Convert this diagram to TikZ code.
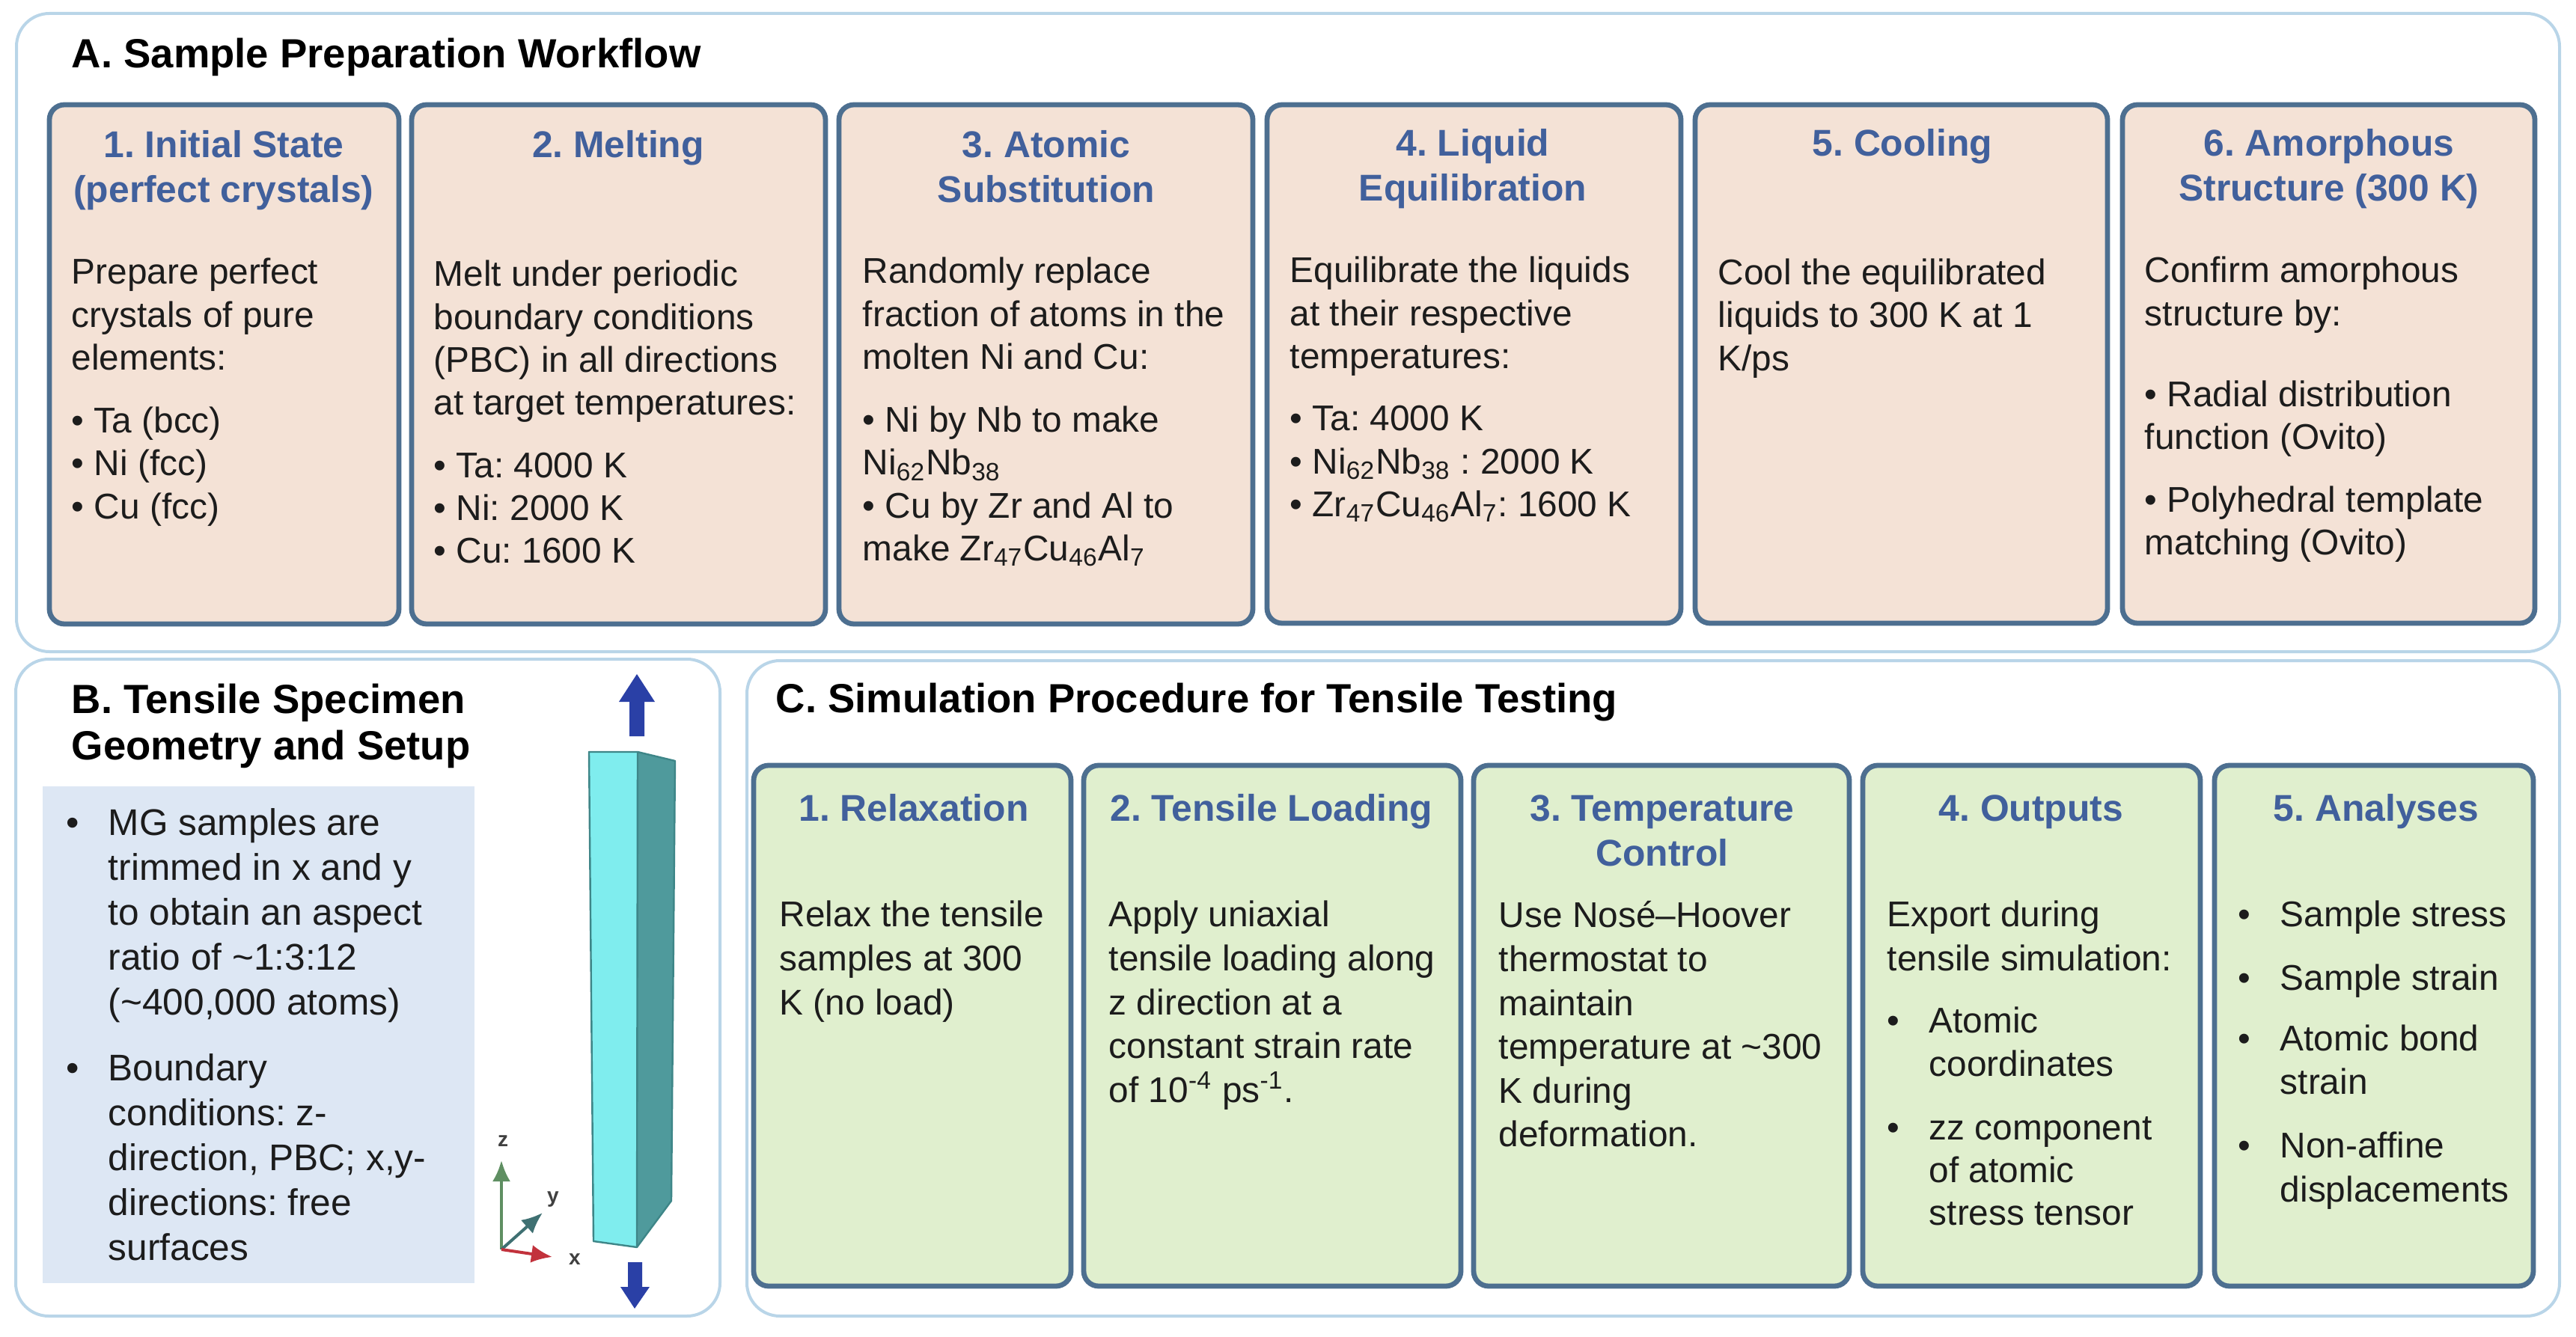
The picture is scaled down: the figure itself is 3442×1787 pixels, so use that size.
\documentclass[tikz,border=0pt]{standalone}
\usepackage{fontspec}
\setmainfont{Liberation Sans}
\usetikzlibrary{fit,arrows.meta}
\frenchspacing

\definecolor{panelline}{HTML}{B9D5E8}
\definecolor{cardline}{HTML}{4D6F90}
\definecolor{cardpeach}{HTML}{F4E2D6}
\definecolor{cardgreen}{HTML}{E0EFCE}
\definecolor{notefill}{HTML}{DDE7F4}
\definecolor{headblue}{HTML}{41609C}
\definecolor{inktext}{HTML}{1C1C1C}
\definecolor{arrowblue}{HTML}{2A40A6}
\definecolor{facefront}{HTML}{7FEDEE}
\definecolor{faceside}{HTML}{4F9A9C}
\definecolor{faceedge}{HTML}{3E8688}
\definecolor{axisz}{HTML}{5F8F62}
\definecolor{axisy}{HTML}{3F7072}
\definecolor{axisx}{HTML}{C2323C}

% first-line strut: every text node hangs 12pt below its stated baseline reference
\newcommand{\fl}{\rule{0pt}{12pt}}
\newcommand{\bul}{\makebox[14pt][l]{•}}
\newcommand{\ind}{\hspace*{14pt}}
\newcommand{\sub}[1]{\textsubscript{#1}}

\tikzset{
  x=0.25pt, y=-0.25pt,
  panel/.style={draw=panelline, line width=1pt, fill=white, rounded corners=11pt,
    inner sep=0pt, outer sep=0pt},
  cardA/.style={draw=cardline, line width=1.7pt, fill=cardpeach, rounded corners=5pt,
    inner sep=0pt, outer sep=0pt},
  cardC/.style={draw=cardline, line width=1.7pt, fill=cardgreen, rounded corners=5pt,
    inner sep=0pt, outer sep=0pt},
  note/.style={fill=notefill, inner sep=0pt, outer sep=0pt},
  panelhead/.style={anchor=north west, inner sep=0pt, yshift=12pt, align=left, text=black,
    font=\fontsize{13.62}{15.5}\selectfont\bfseries},
  cardhead/.style={anchor=north, inner sep=0pt, yshift=12pt, align=center, text=headblue,
    font=\fontsize{12.45}{15}\selectfont\bfseries},
  bodyA/.style={anchor=north west, inner sep=0pt, yshift=12pt, align=left, text=inktext,
    font=\fontsize{11.95}{14.3}\selectfont},
  bodyB/.style={anchor=north west, inner sep=0pt, yshift=12pt, align=left, text=inktext,
    font=\fontsize{12.4}{15}\selectfont},
  bodyC/.style={anchor=north west, inner sep=0pt, yshift=12pt, align=left, text=inktext,
    font=\fontsize{11.95}{14.65}\selectfont},
  axislabel/.style={inner sep=0pt, text=black!75, font=\fontsize{7}{8}\selectfont\bfseries},
  axisarrow/.style={line width=1pt, -{Latex[length=7pt,width=6pt]}},
}

\begin{document}
\begin{tikzpicture}
\useasboundingbox (0,0) rectangle (3442,1787);

% outer panels
\node[panel, fit={(22,18) (3420,871)}] (panelA) {};
\node[panel, fit={(21,881) (962,1759)}] (panelB) {};
\node[panel, fit={(998,883) (3420,1759)}] (panelC) {};

% panel A: workflow cards
\node[panelhead] (headA) at (95,90) {\fl A. Sample Preparation Workflow};
\node[cardA, fit={(66,140) (533,834)}] (a1) {};
\node[cardA, fit={(550,140) (1103,834)}] (a2) {};
\node[cardA, fit={(1121,140) (1674,834)}] (a3) {};
\node[cardA, fit={(1693,140) (2246,833)}] (a4) {};
\node[cardA, fit={(2265,140) (2816,833)}] (a5) {};
\node[cardA, fit={(2836,140) (3387,833)}] (a6) {};

\node[cardhead] (a1h) at (299,210) {\fl 1. Initial State\\(perfect crystals)};
\node[bodyA] (a1b) at (95,379) {\fl Prepare perfect\\crystals of pure\\elements:\\[6.8pt]
  • Ta (bcc)\\• Ni (fcc)\\• Cu (fcc)};

\node[cardhead] (a2h) at (826,210) {\fl 2. Melting};
\node[bodyA] (a2b) at (579,382) {\fl Melt under periodic\\boundary conditions\\(PBC) in all directions\\at target temperatures:\\[6.7pt]
  • Ta: 4000 K\\• Ni: 2000 K\\• Cu: 1600 K};

\node[cardhead] (a3h) at (1398,210) {\fl 3. Atomic\\Substitution};
\node[bodyA] (a3b) at (1152,378) {\fl Randomly replace\\fraction of atoms in the\\molten Ni and Cu:\\[6.8pt]
  • Ni by Nb to make\\Ni\sub{62}Nb\sub{38}\\• Cu by Zr and Al to\\make Zr\sub{47}Cu\sub{46}Al\sub{7}};

\node[cardhead] (a4h) at (1968,208) {\fl 4. Liquid\\Equilibration};
\node[bodyA] (a4b) at (1723,377) {\fl Equilibrate the liquids\\at their respective\\temperatures:\\[6.6pt]
  • Ta: 4000 K\\• Ni\sub{62}Nb\sub{38} : 2000 K\\• Zr\sub{47}Cu\sub{46}Al\sub{7}: 1600 K};

\node[cardhead] (a5h) at (2542,208) {\fl 5. Cooling};
\node[bodyA] (a5b) at (2295,380) {\fl Cool the equilibrated\\liquids to 300 K at 1\\K/ps};

\node[cardhead] (a6h) at (3112,208) {\fl 6. Amorphous\\Structure (300 K)};
\node[bodyA] (a6b) at (2865,377) {\fl Confirm amorphous\\structure by:\\[12.7pt]
  • Radial distribution\\function (Ovito)\\[6.7pt]
  • Polyhedral template\\matching (Ovito)};

% panel B: specimen notes
\node[panelhead] (headB) at (95,953) {\fl B. Tensile Specimen\\Geometry and Setup};
\node[note, fit={(57,1051) (634,1715)}] (noteB) {};
\node[bodyB] (noteBtext) at (88,1116) {\fl \bul MG samples are\\\ind trimmed in x and y\\\ind to obtain an aspect\\\ind ratio of \textasciitilde1:3:12\\\ind (\textasciitilde400,000 atoms)\\[7pt]
  \bul Boundary\\\ind conditions: z-\\\ind direction, PBC; x,y-\\\ind directions: free\\\ind surfaces};

% panel B: specimen bar
\fill[facefront] (787,1005) -- (852,1005) -- (851,1667) -- (793,1659) -- cycle;
\fill[faceside] (852,1005) -- (902,1017) -- (897,1605) -- (851,1667) -- cycle;
\draw[faceedge, line width=0.6pt, line join=round]
  (787,1005) -- (852,1005) -- (902,1017) -- (897,1605) -- (851,1667) -- (793,1659) -- cycle;
\draw[faceedge, line width=0.6pt] (852,1005) -- (851,1667);

% panel B: load arrows
\fill[arrowblue] (851,901) -- (875,938) -- (861,938) -- (861,984) -- (841,984) -- (841,938) -- (827,938) -- cycle;
\fill[arrowblue] (848,1749) -- (868,1720) -- (858,1720) -- (858,1687) -- (839,1687) -- (839,1720) -- (829,1720) -- cycle;

% panel B: coordinate triad
\coordinate (orig) at (670,1670);
\coordinate (ztip) at (670,1551);
\coordinate (ytip) at (725,1621);
\coordinate (xtip) at (738,1680);
\draw[axisarrow, axisz] (orig) -- (ztip);
\draw[axisarrow, axisy] (orig) -- (ytip);
\draw[axisarrow, axisx] (orig) -- (xtip);
\node[axislabel] (zlab) at (672,1525) {z};
\node[axislabel] (ylab) at (739,1603) {y};
\node[axislabel] (xlab) at (768,1683) {x};

% panel C: tensile procedure cards
\node[panelhead] (headC) at (1036,952) {\fl C. Simulation Procedure for Tensile Testing};
\node[cardC, fit={(1007,1023) (1431,1719)}] (c1) {};
\node[cardC, fit={(1448,1023) (1952,1719)}] (c2) {};
\node[cardC, fit={(1969,1023) (2471,1719)}] (c3) {};
\node[cardC, fit={(2489,1023) (2940,1719)}] (c4) {};
\node[cardC, fit={(2959,1023) (3385,1719)}] (c5) {};

\node[cardhead] (c1h) at (1221,1097) {\fl 1. Relaxation};
\node[bodyC] (c1b) at (1041,1238) {\fl Relax the tensile\\samples at 300\\K (no load)};

\node[cardhead] (c2h) at (1699,1097) {\fl 2. Tensile Loading};
\node[bodyC] (c2b) at (1481,1238) {\fl Apply uniaxial\\tensile loading along\\z direction at a\\constant strain rate\\of 10\textsuperscript{-4} ps\textsuperscript{-1}.};

\node[cardhead] (c3h) at (2221,1097) {\fl 3. Temperature\\Control};
\node[bodyC] (c3b) at (2002,1239) {\fl Use Nosé–Hoover\\thermostat to\\maintain\\temperature at \textasciitilde300\\K during\\deformation.};

\node[cardhead] (c4h) at (2714,1097) {\fl 4. Outputs};
\node[bodyC] (c4b) at (2521,1238) {\fl Export during\\tensile simulation:\\[6pt]
  \bul Atomic\\\ind coordinates\\[6.5pt]
  \bul zz component\\[-0.4pt]\ind of atomic\\[-0.4pt]\ind stress tensor};

\node[cardhead] (c5h) at (3175,1097) {\fl 5. Analyses};
\node[bodyC] (c5b) at (2990,1238) {\fl \bul Sample stress\\[6.6pt]
  \bul Sample strain\\[5.4pt]
  \bul Atomic bond\\\ind strain\\[6.6pt]
  \bul Non-affine\\\ind displacements};
\end{tikzpicture}
\end{document}
